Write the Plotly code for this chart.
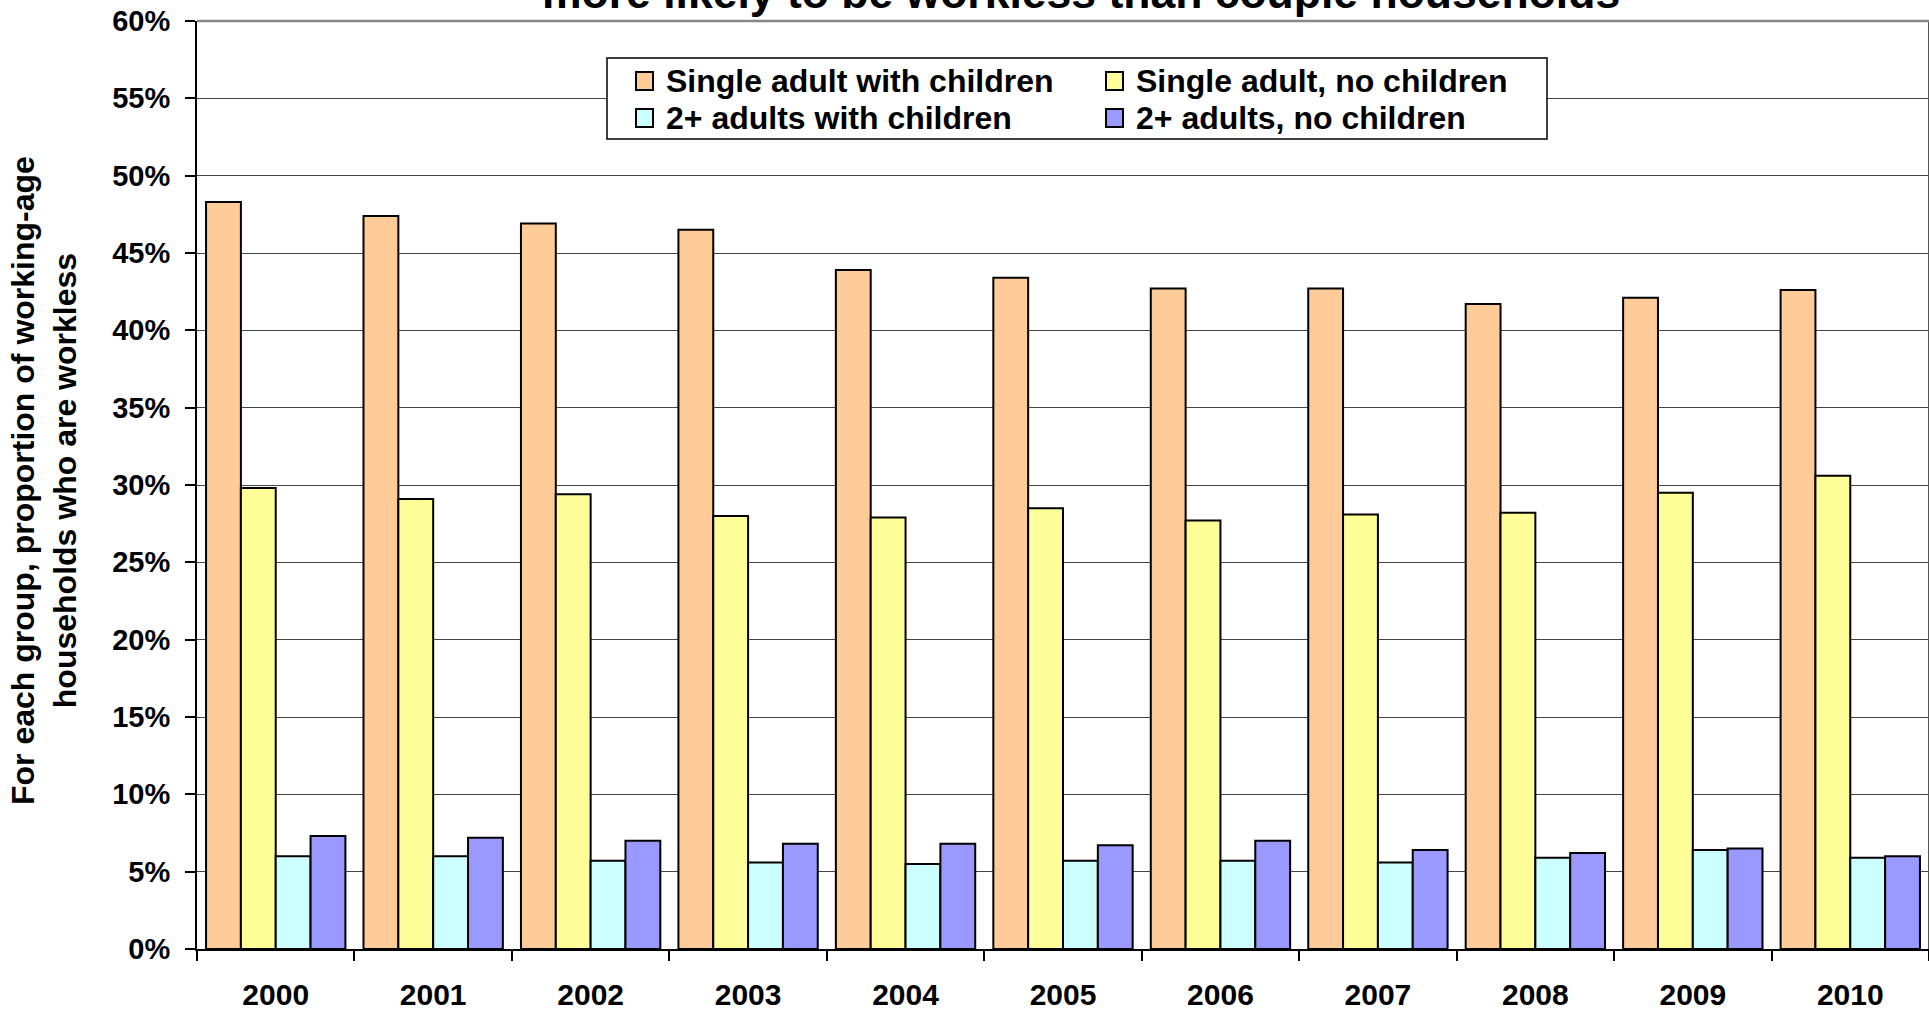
import plotly.graph_objects as go

years = ["2000", "2001", "2002", "2003", "2004", "2005", "2006", "2007", "2008", "2009", "2010"]
single_with_children = [48.3, 47.4, 46.9, 46.5, 43.9, 43.4, 42.7, 42.7, 41.7, 42.1, 42.6]
single_no_children = [29.8, 29.1, 29.4, 28.0, 27.9, 28.5, 27.7, 28.1, 28.2, 29.5, 30.6]
couple_with_children = [6.0, 6.0, 5.7, 5.6, 5.5, 5.7, 5.7, 5.6, 5.9, 6.4, 5.9]
couple_no_children = [7.3, 7.2, 7.0, 6.8, 6.8, 6.7, 7.0, 6.4, 6.2, 6.5, 6.0]

series_names = ["Single adult with children", "Single adult, no children",
                "2+ adults with children", "2+ adults, no children"]
series_colors = ["#FFCC99", "#FFFF99", "#CCFFFF", "#9999FF"]
series_values = [single_with_children, single_no_children, couple_with_children, couple_no_children]
y_ticks = [0, 5, 10, 15, 20, 25, 30, 35, 40, 45, 50, 55, 60]
y_tick_text = [f"{v}%" for v in y_ticks]

W, H = 1929, 1012
L, R, T, B = 197, 1929, 21, 949
FONT = "Liberation Sans, Arial, sans-serif"

def px(x):  # page x -> paper
    return (x - L) / (R - L)

def py(y):  # page y -> paper
    return (B - y) / (B - T)

fig = go.Figure()
for name, color, vals in zip(series_names, series_colors, series_values):
    fig.add_trace(go.Bar(x=years, y=vals, name=name, marker_color=color,
                         marker_line_color="black", marker_line_width=2,
                         showlegend=False))

shapes = []
annotations = []
# legend box
shapes.append(dict(type="rect", xref="paper", yref="paper",
                   x0=px(607), x1=px(1547), y0=py(139), y1=py(58),
                   line=dict(color="black", width=1.5), fillcolor="white", layer="above"))
legend_pos = [(636, 81), (1106, 81), (636, 118), (1106, 118)]
for (lx, ly), name, color in zip(legend_pos, series_names, series_colors):
    shapes.append(dict(type="rect", xref="paper", yref="paper",
                       x0=px(lx), x1=px(lx + 17), y0=py(ly + 9), y1=py(ly - 9),
                       line=dict(color="black", width=2), fillcolor=color, layer="above"))
    annotations.append(dict(xref="paper", yref="paper", x=px(lx + 28), y=py(ly),
                            xanchor="left", yanchor="middle", showarrow=False,
                            text=f"<b>{name}</b>", font=dict(family=FONT, size=32, color="black")))
# title (partially cut at top)
annotations.append(dict(xref="paper", yref="paper", x=px(1081), y=py(-7.5),
                        xanchor="center", yanchor="middle", showarrow=False,
                        text="<b>more likely to be workless than couple households</b>",
                        font=dict(family=FONT, size=44.5, color="black")))
# y axis title
annotations.append(dict(xref="paper", yref="paper", x=px(44), y=py(481),
                        xanchor="center", yanchor="middle", showarrow=False, textangle=-90,
                        text="<b>For each group, proportion of working-age<br>households who are workless</b>",
                        font=dict(family=FONT, size=32, color="black")))
# right border of plot area
shapes.append(dict(type="line", xref="paper", yref="paper", x0=1, x1=1, y0=0, y1=1,
                   line=dict(color="#555", width=2)))
# top border (60% line, grey and heavier)
shapes.append(dict(type="line", xref="paper", yref="paper", x0=0, x1=1, y0=1, y1=1,
                   line=dict(color="#888", width=2.5)))

fig.update_layout(
    width=W, height=H,
    margin=dict(l=L, r=W - R, t=T, b=H - B, pad=0),
    paper_bgcolor="white", plot_bgcolor="white",
    barmode="group", bargap=0.115, bargroupgap=0,
    font=dict(family=FONT, color="black"),
    shapes=shapes, annotations=annotations,
    xaxis=dict(type="category", tickson="boundaries", ticks="outside", ticklen=10,
               tickcolor="black", tickwidth=1.5, showline=True, linecolor="black", linewidth=2,
               tickfont=dict(family=FONT, size=30, color="black"),
               ticktext=[f"<b>{y}</b>" for y in years], tickvals=years,
               ticklabelstandoff=18, showgrid=False),
    yaxis=dict(range=[0, 60], tickvals=y_ticks, ticktext=[f"<b>{t}</b>" for t in y_tick_text],
               ticks="outside", ticklen=10, tickcolor="black", tickwidth=1.5,
               showline=True, linecolor="black", linewidth=2,
               showgrid=True, gridcolor="#444", gridwidth=1,
               tickfont=dict(family=FONT, size=29, color="black"),
               ticklabelstandoff=9, zeroline=False),
)

fig.write_html("out.html", config={"displayModeBar": False},
               post_script="document.body.style.margin='0';document.body.style.padding='0';")
